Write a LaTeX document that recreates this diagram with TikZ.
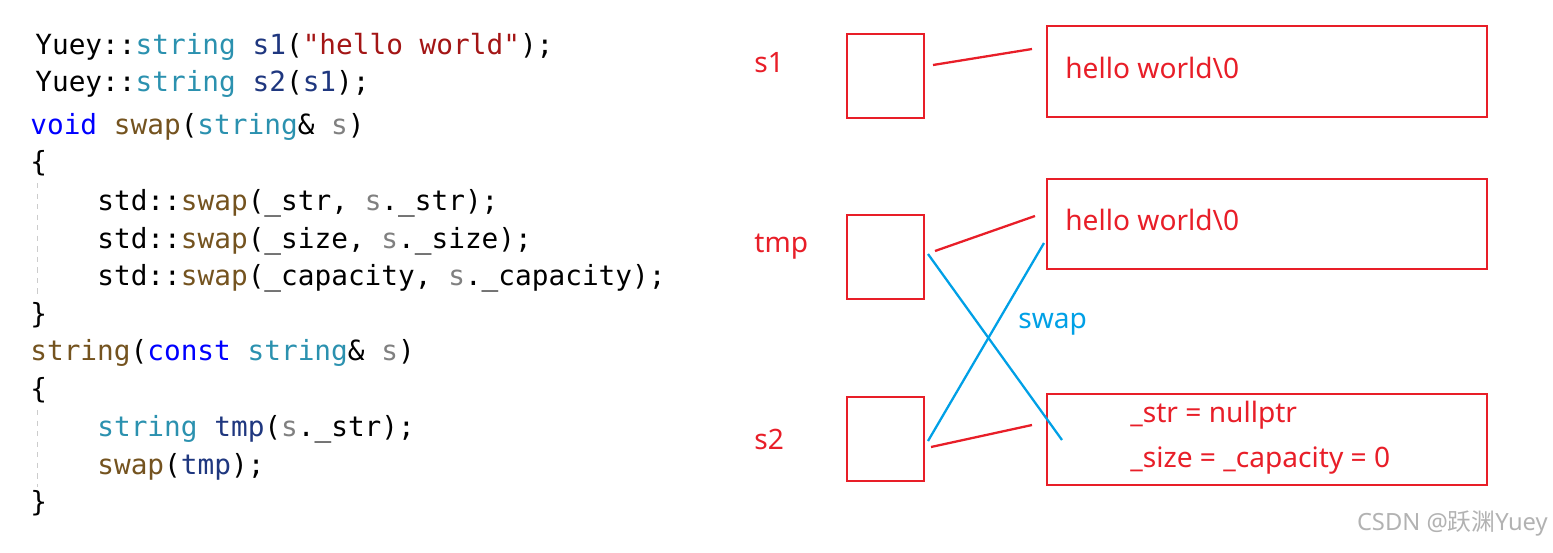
\documentclass[tikz,border=0pt]{standalone}
\usepackage{fontspec}
\setmonofont{DejaVu Sans Mono}
\setsansfont{Noto Sans}
\newfontfamily\cjk{Noto Sans CJK SC}
\definecolor{cred}{RGB}{232,30,40}
\definecolor{cblue}{RGB}{0,160,230}
\definecolor{kw}{RGB}{0,0,255}
\definecolor{ty}{RGB}{43,145,175}
\definecolor{st}{RGB}{163,21,21}
\definecolor{va}{RGB}{31,55,127}
\definecolor{fn}{RGB}{116,83,31}
\definecolor{pa}{RGB}{128,128,128}
\tikzset{
  code/.style={anchor=west,inner sep=0pt,font=\fontsize{15.8}{18}\ttfamily},
  lab/.style={anchor=west,inner sep=0pt,text=cred,font=\fontsize{16}{19}\sffamily},
  ptr/.style={draw=cred,line width=1.5pt},
  buf/.style={draw=cred,line width=1.5pt},
  link/.style={cred,line width=1.3pt},
  swp/.style={cblue,line width=1.3pt}
}
\begin{document}
\begin{tikzpicture}[x=0.02cm,y=-0.02cm]
\useasboundingbox (0,0) rectangle (1553,552);
% the code
\node[code] (L1) at (35,47) {Yuey::\textcolor{ty}{string} \textcolor{va}{s1}(\textcolor{st}{"hello world"});};
\node[code] (L2) at (35,84) {Yuey::\textcolor{ty}{string} \textcolor{va}{s2}(\textcolor{va}{s1});};
\node[code] (L3) at (30,127) {\textcolor{kw}{void} \textcolor{fn}{swap}(\textcolor{ty}{string}\& \textcolor{pa}{s})};
\node[code] (L4) at (30,163) {\{};
\node[code] (L5) at (97,203) {std::\textcolor{fn}{swap}(\_str, \textcolor{pa}{s}.\_str);};
\node[code] (L6) at (97,241) {std::\textcolor{fn}{swap}(\_size, \textcolor{pa}{s}.\_size);};
\node[code] (L7) at (97,278) {std::\textcolor{fn}{swap}(\_capacity, \textcolor{pa}{s}.\_capacity);};
\node[code] (L8) at (30,315) {\}};
\node[code] (L9) at (30,353) {\textcolor{fn}{string}(\textcolor{kw}{const} \textcolor{ty}{string}\& \textcolor{pa}{s})};
\node[code] (L10) at (30,390) {\{};
\node[code] (L11) at (97,429) {\textcolor{ty}{string} \textcolor{va}{tmp}(\textcolor{pa}{s}.\_str);};
\node[code] (L12) at (97,467) {\textcolor{fn}{swap}(\textcolor{va}{tmp});};
\node[code] (L13) at (30,503) {\}};
\draw[gray!40,dashed] (37,183) -- (37,297);
\draw[gray!40,dashed] (37,410) -- (37,487);

% the objects
\node[lab] (Ls1) at (754,63) {s1};
\node[lab] (Ltmp) at (754,247) {tmp};
\node[lab] (Ls2) at (754,439) {s2};
\node[ptr,minimum width=77*0.02cm,minimum height=84*0.02cm] (P1) at (885.5,76) {};
\node[ptr,minimum width=77*0.02cm,minimum height=84*0.02cm] (Ptmp) at (885.5,257) {};
\node[ptr,minimum width=77*0.02cm,minimum height=84*0.02cm] (P2) at (885.5,439) {};
\node[buf,minimum width=440*0.02cm,minimum height=91*0.02cm] (B1) at (1267,71.5) {};
\node[buf,minimum width=440*0.02cm,minimum height=90*0.02cm] (Btmp) at (1267,224) {};
\node[buf,minimum width=440*0.02cm,minimum height=91*0.02cm] (B2) at (1267,439.5) {};
\node[lab] (T1) at (1065,68) {hello world\textbackslash 0};
\node[lab] (Ttmp) at (1065,220) {hello world\textbackslash 0};
\node[lab] (T2a) at (1130,415) {\_str = nullptr};
\node[lab] (T2b) at (1130,461) {\_size = \_capacity = 0};

% the pointers
\coordinate (a1) at (933,65);  \coordinate (b1) at (1032,49);
\coordinate (a2) at (935,251); \coordinate (b2) at (1035,216);
\coordinate (a3) at (931,447); \coordinate (b3) at (1032,425);
\draw[link] (a1) -- (b1);
\draw[link] (a2) -- (b2);
\draw[link] (a3) -- (b3);
\coordinate (c1) at (928,254); \coordinate (d1) at (1062,440);
\coordinate (c2) at (928,441); \coordinate (d2) at (1044,243);
\draw[swp] (c1) -- (d1);
\draw[swp] (c2) -- (d2);
\node[lab,text=cblue] (Swap) at (1018,324) {swap};

\node[anchor=east,inner sep=0pt,text=gray!60,font=\fontsize{13.5}{15}\sffamily] (Mark) at (1548,523) {CSDN @{\cjk 跃渊}Yuey};
\end{tikzpicture}
\end{document}
